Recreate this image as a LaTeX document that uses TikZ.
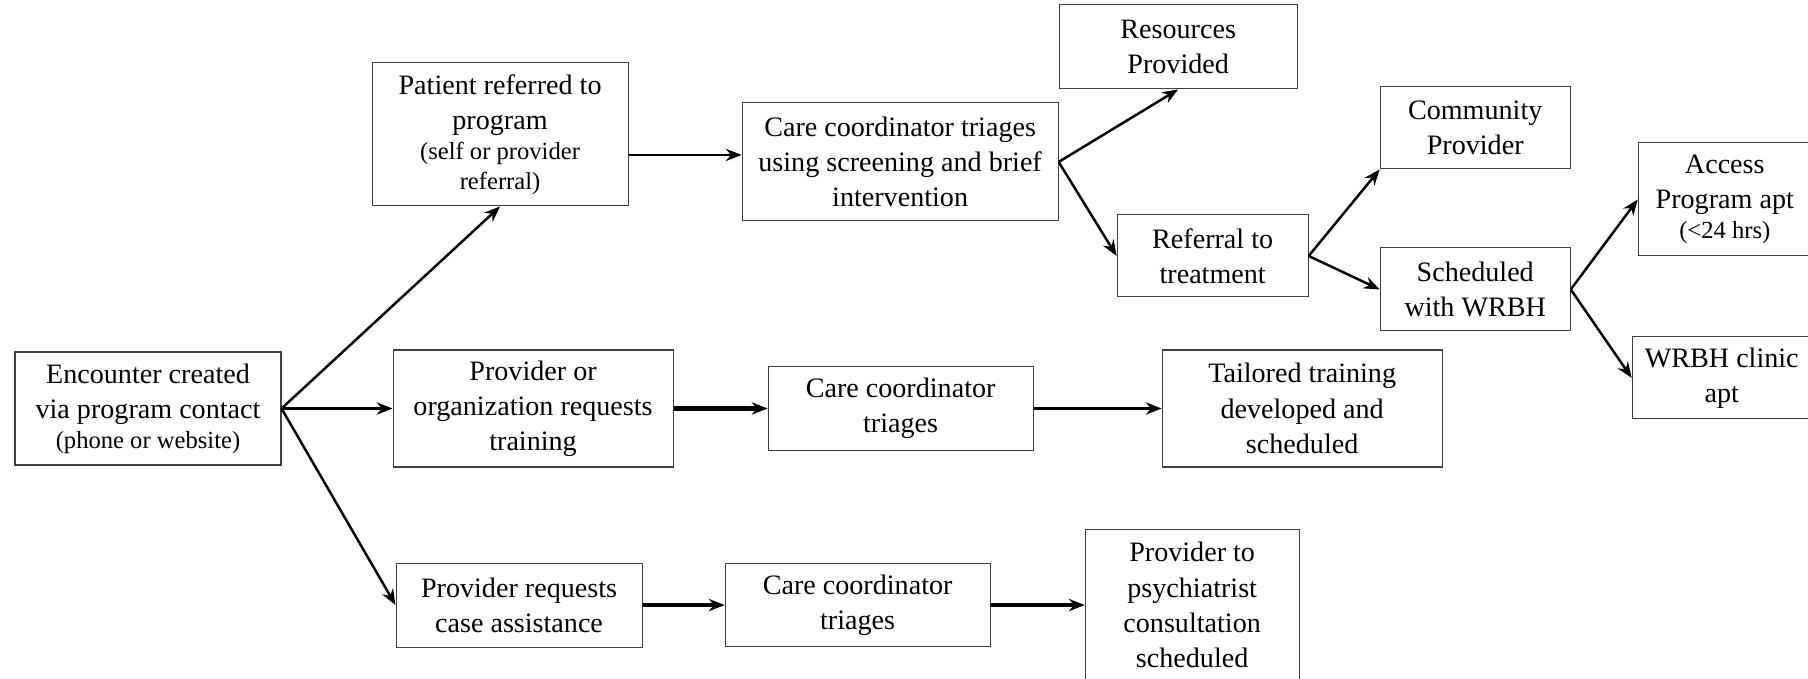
\documentclass[tikz,border=0pt]{standalone}
\usepackage{fontspec}
\setmainfont{Liberation Serif}
\usetikzlibrary{
        arrows.meta,
        positioning
    }
\tikzset{>={Stealth[length=9pt,width=7pt]},auto,node distance=2cm}
\tikzset{flow box/.style={draw=black!75,line width=0.6pt,rectangle,align=center,inner sep=2pt,font=\fontsize{16}{20}\selectfont}}
\tikzset{flow arrow/.style={->,line width=1.4pt}}
\tikzset{heavy arrow/.style={->,line width=2.4pt}}
\newcommand{\smallsize}{\fontsize{14}{17}\selectfont}

\begin{document}
\begin{tikzpicture}
    \useasboundingbox (0,0) rectangle (36.16,-13.56);
    \node[flow box, minimum width=5.32cm, minimum height=2.26cm] (enc) at (2.96,-8.17) {Encounter created\\via program contact\\[-3pt]\smallsize(phone or website)};
    \node[flow box, minimum width=5.12cm, minimum height=2.86cm] (pat) [above right=2.9cm and 1.8cm of enc] {Patient referred to\\program\\[-3pt]\smallsize(self or provider\\[-3pt]\smallsize referral)};
    \node[flow box, minimum width=6.32cm, minimum height=2.36cm] (care1) [right=2.26cm of pat, yshift=-0.55cm] {Care coordinator triages\\using screening and brief\\intervention};
    \node[flow box, minimum width=4.76cm, minimum height=1.68cm] (res) [above right=0.26cm and 0cm of care1] {Resources\\Provided};
    \node[flow box, minimum width=3.82cm, minimum height=1.64cm] (ref) [right=1.16cm of care1, yshift=-1.88cm] {Referral to\\treatment};
    \node[flow box, minimum width=3.80cm, minimum height=1.64cm] (comm) [above right=0.9cm and 1.42cm of ref] {Community\\Provider};
    \node[flow box, minimum width=3.80cm, minimum height=1.66cm] (sched) [right=1.42cm of ref, yshift=-0.67cm] {Scheduled\\with WRBH};
    \node[flow box, minimum width=3.46cm, minimum height=2.26cm] (access) [right=1.34cm of sched, yshift=1.8cm] {Access\\Program apt\\[-3pt]\smallsize(<24 hrs)};
    \node[flow box, minimum width=3.58cm, minimum height=1.64cm] (clinic) [right=1.22cm of sched, yshift=-1.77cm] {WRBH clinic\\apt};
    \node[flow box, minimum width=5.60cm, minimum height=2.34cm] (org) [right=2.22cm of enc] {Provider or\\organization requests\\training};
    \node[flow box, minimum width=5.30cm, minimum height=1.68cm] (care2) [right=1.88cm of org] {Care coordinator\\triages};
    \node[flow box, minimum width=5.60cm, minimum height=2.34cm] (tail) [right=2.56cm of care2] {Tailored training\\developed and\\scheduled};
    \node[flow box, minimum width=4.92cm, minimum height=1.68cm] (req) [below=1.9cm of org.south west, anchor=north west, xshift=0.06cm] {Provider requests\\case assistance};
    \node[flow box, minimum width=5.30cm, minimum height=1.66cm] (care3) [right=1.64cm of req] {Care coordinator\\triages};
    \node[flow box, minimum width=4.28cm, minimum height=3.04cm] (psych) [right=1.88cm of care3] {Provider to\\psychiatrist\\consultation\\scheduled};
    \path[flow arrow]
        (enc.east) edge (pat.south)
        (enc.east) edge (org.west)
        (enc.east) edge (req.west)
        ([yshift=-0.41cm]pat.east) edge ([yshift=0.14cm]care1.west)
        (care1.east) edge (res.south)
        (care1.east) edge (ref.west)
        (ref.east) edge (comm.south west)
        (ref.east) edge (sched.west)
        (sched.east) edge (access.west)
        (sched.east) edge (clinic.west)
        (care2.east) edge (tail.west)
        ;
    \path[heavy arrow]
        (org.east) edge (care2.west)
        (req.east) edge (care3.west)
        (care3.east) edge (psych.west)
        ;
\end{tikzpicture}
\end{document}
